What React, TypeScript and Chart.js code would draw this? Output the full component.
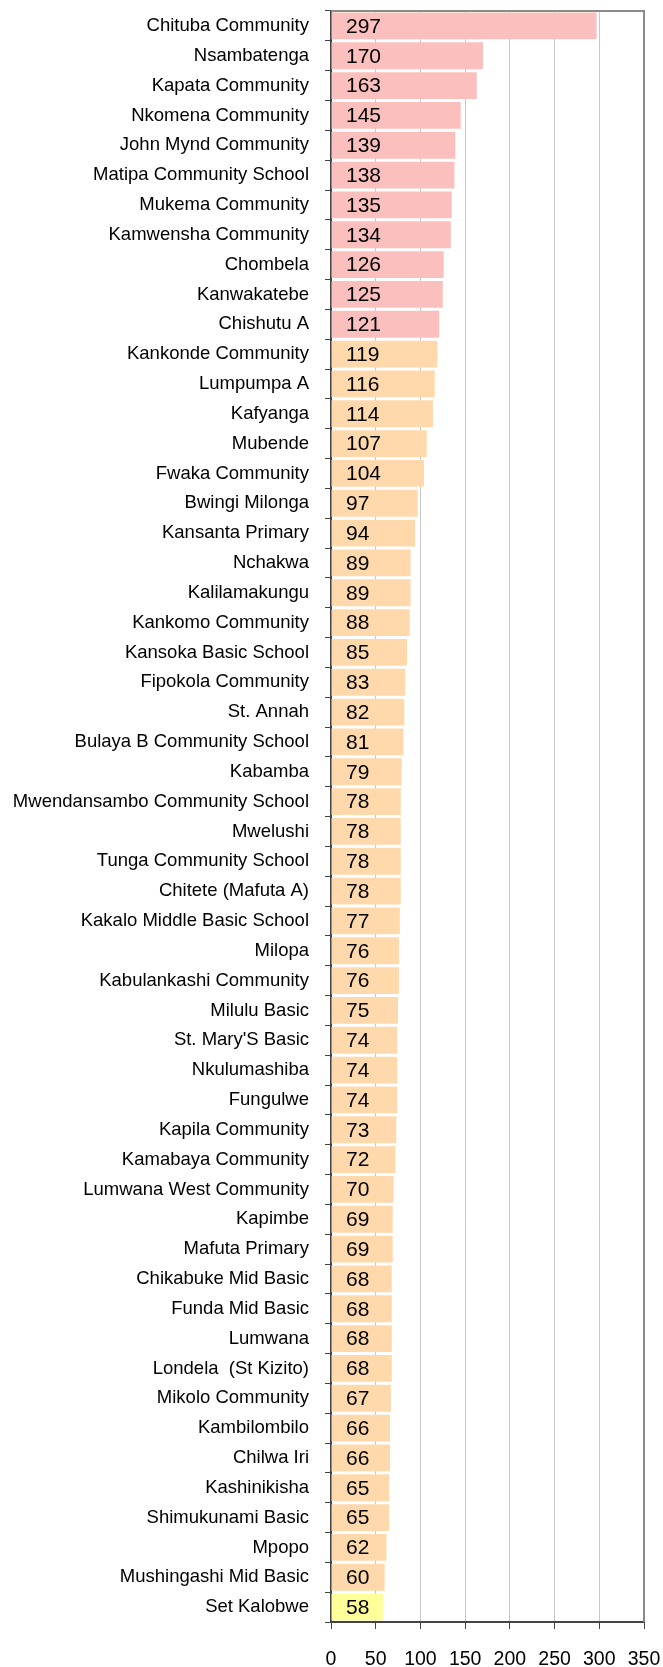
import React, { useEffect, useRef } from "react";
import { Chart, registerables } from "chart.js";

Chart.register(...registerables);

const categories = [
  "Chituba Community", "Nsambatenga", "Kapata Community", "Nkomena Community",
  "John Mynd Community", "Matipa Community School", "Mukema Community", "Kamwensha Community",
  "Chombela", "Kanwakatebe", "Chishutu A", "Kankonde Community", "Lumpumpa A", "Kafyanga",
  "Mubende", "Fwaka Community", "Bwingi Milonga", "Kansanta Primary", "Nchakwa",
  "Kalilamakungu", "Kankomo Community", "Kansoka Basic School", "Fipokola Community",
  "St. Annah", "Bulaya B Community School", "Kabamba", "Mwendansambo Community School",
  "Mwelushi", "Tunga Community School", "Chitete (Mafuta A)", "Kakalo Middle Basic School",
  "Milopa", "Kabulankashi Community", "Milulu Basic", "St. Mary'S Basic", "Nkulumashiba",
  "Fungulwe", "Kapila Community", "Kamabaya Community", "Lumwana West Community", "Kapimbe",
  "Mafuta Primary", "Chikabuke Mid Basic", "Funda Mid Basic", "Lumwana", "Londela  (St Kizito)",
  "Mikolo Community", "Kambilombilo", "Chilwa Iri", "Kashinikisha", "Shimukunami Basic",
  "Mpopo", "Mushingashi Mid Basic", "Set Kalobwe",
];

const values = [
  297, 170, 163, 145, 139, 138, 135, 134, 126, 125, 121, 119, 116, 114, 107, 104, 97, 94, 89,
  89, 88, 85, 83, 82, 81, 79, 78, 78, 78, 78, 77, 76, 76, 75, 74, 74, 74, 73, 72, 70, 69, 69,
  68, 68, 68, 68, 67, 66, 66, 65, 65, 62, 60, 58,
];

// colour group per bar: 0 = pink, 1 = orange, 2 = yellow
const groups = values.map((_, i) => (i < 11 ? 0 : i === values.length - 1 ? 2 : 1));
const groupColors = ["#FBC0BD", "#FFD9AC", "#FFFF99"];

const xTicks = [0, 50, 100, 150, 200, 250, 300, 350];

const FONT = "'Liberation Sans', Arial, sans-serif";

const valueLabels = {
  id: "valueLabels",
  afterDatasetsDraw(chart: any) {
    const { ctx } = chart;
    const meta = chart.getDatasetMeta(0);
    const xs = chart.scales.x;
    ctx.save();
    ctx.font = `21px ${FONT}`;
    ctx.fillStyle = "#000";
    ctx.textAlign = "left";
    ctx.textBaseline = "middle";
    meta.data.forEach((bar: any, i: number) => {
      ctx.fillText(String(values[i]), xs.getPixelForValue(0) + 15, bar.y + 1);
    });
    ctx.restore();
  },
};

const frame = {
  id: "frame",
  afterDraw(chart: any) {
    const { ctx, chartArea: a } = chart;
    ctx.save();
    ctx.strokeStyle = "#8a8a8a";
    ctx.lineWidth = 2;
    ctx.beginPath();
    ctx.moveTo(a.left, a.top);
    ctx.lineTo(a.right, a.top);
    ctx.lineTo(a.right, a.bottom);
    ctx.stroke();
    ctx.restore();
  },
};

export default function App() {
  const ref = useRef<HTMLCanvasElement>(null);
  useEffect(() => {
    const chart = new Chart(ref.current!, {
      type: "bar",
      data: {
        labels: categories,
        datasets: [
          {
            data: values,
            backgroundColor: groups.map((g) => groupColors[g]),
            borderWidth: 0,
            barPercentage: 0.9,
            categoryPercentage: 1.0,
          },
        ],
      },
      options: {
        indexAxis: "y",
        animation: false,
        responsive: false,
        maintainAspectRatio: false,
        layout: { padding: { top: 11, right: 19, left: 0, bottom: 0 } },
        plugins: { legend: { display: false }, tooltip: { enabled: false } },
        scales: {
          x: {
            min: 0,
            max: 350,
            afterBuildTicks: (s: any) => {
              s.ticks = xTicks.map((v) => ({ value: v }));
            },
            afterFit: (s: any) => {
              s.height = 45;
              s.paddingLeft = 0;
              s.paddingRight = 0;
            },
            grid: { color: "#c8c8c8", tickColor: "#444", tickLength: 7, lineWidth: 1 },
            border: { color: "#444", width: 2 },
            ticks: {
              color: "#000",
              font: { family: FONT, size: 19.5 },
              padding: 19,
              maxRotation: 0,
              autoSkip: false,
            },
          },
          y: {
            afterFit: (s: any) => {
              s.width = 331;
              s.paddingTop = 0;
              s.paddingBottom = 0;
            },
            grid: { drawOnChartArea: false, tickColor: "#444", tickLength: 6, offset: true },
            border: { color: "#444", width: 2 },
            ticks: {
              color: "#000",
              font: { family: FONT, size: 18.5 },
              padding: 16,
              autoSkip: false,
            },
          },
        },
      },
      plugins: [valueLabels, frame],
    });
    return () => chart.destroy();
  }, []);
  return (
    <div style={{ position: "absolute", left: 0, top: 0, width: 663, height: 1667 }}>
      <canvas ref={ref} width={663} height={1667} style={{ display: "block" }} />
    </div>
  );
}
